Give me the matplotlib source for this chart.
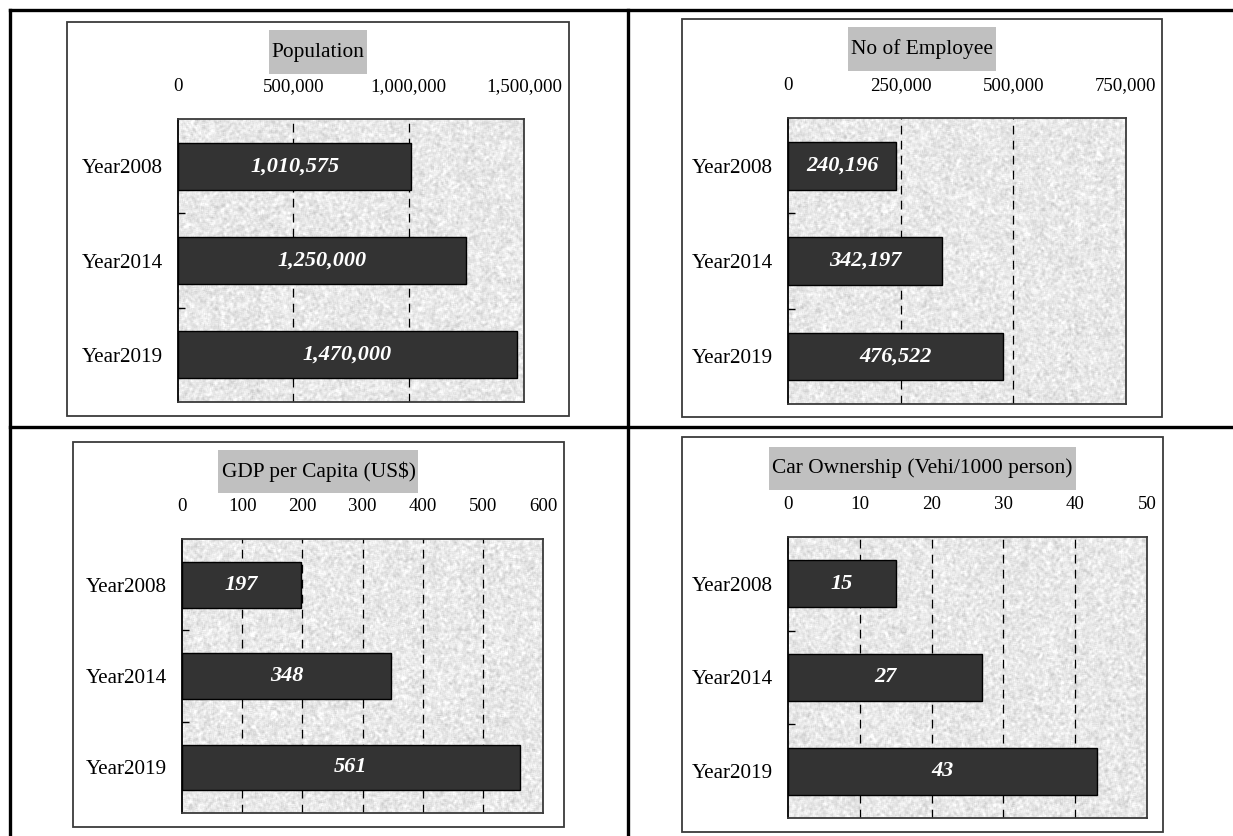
import numpy as np
import matplotlib
matplotlib.use('Agg')
import matplotlib.pyplot as plt
from matplotlib.patches import Rectangle
from matplotlib.lines import Line2D

plt.rcParams['font.family'] = ['Liberation Serif', 'DejaVu Serif']

# data
categories = ['Year2008', 'Year2014', 'Year2019']
population = [1010575, 1250000, 1470000]
employees = [240196, 342197, 476522]
gdp_per_capita = [197, 348, 561]
car_ownership = [15, 27, 43]

pop_ticks = [0, 500000, 1000000, 1500000]
emp_ticks = [0, 250000, 500000, 750000]
gdp_ticks = [0, 100, 200, 300, 400, 500, 600]
car_ticks = [0, 10, 20, 30, 40, 50]

W, H = 1233, 836
fig = plt.figure(figsize=(W / 100, H / 100), dpi=100)


def fig_rect(x0, y0, x1, y1):
    # pixel box (top-left origin) -> figure fraction [left, bottom, width, height]
    return [x0 / W, 1 - y1 / H, (x1 - x0) / W, (y1 - y0) / H]


# table grid lines
def table_line(xs, ys):
    fig.add_artist(Line2D([x / W for x in xs], [1 - y / H for y in ys],
                          color='black', lw=2.4, transform=fig.transFigure))


table_line([10, 10], [10, 836])
table_line([628, 628], [10, 836])
table_line([10, 1233], [10, 10])
table_line([10, 1233], [427, 427])

rng = np.random.default_rng(7)
kernel = np.ones(3) / 3


def texture(h, w):
    z = rng.normal(size=(h, w))
    z = np.apply_along_axis(lambda r: np.convolve(r, kernel, mode='same'), 1, z)
    z = np.apply_along_axis(lambda c: np.convolve(c, kernel, mode='same'), 0, z)
    z = z / z.std()
    return np.clip(0.91 + 0.035 * z, 0.78, 1.0)


def bar_panel(box, area, title, values, ticks, title_y):
    # outer chart frame
    fig.add_artist(Rectangle((box[0] / W, 1 - box[3] / H),
                             (box[2] - box[0]) / W, (box[3] - box[1]) / H,
                             fill=False, ec='#3a3a3a', lw=1.3,
                             transform=fig.transFigure))
    ax = fig.add_axes(fig_rect(*area))
    xmax = ticks[-1]
    h_px = int(area[3] - area[1])
    w_px = int(area[2] - area[0])
    ax.imshow(texture(h_px, w_px), cmap='gray', vmin=0, vmax=1,
              extent=(0, xmax, 2.5, -0.5), aspect='auto',
              interpolation='bilinear', zorder=0)
    for t in ticks[1:-1]:
        ax.axvline(t, color='black', lw=0.9, ls=(0, (7, 5)), zorder=1)
    y = np.arange(len(categories))
    ax.barh(y, values, height=0.5, color='#333333', edgecolor='black',
            lw=1.0, zorder=2)
    for yi, v in zip(y, values):
        ax.text(v / 2, yi, f'{v:,.0f}', ha='center', va='center',
                color='white', fontsize=16, fontweight='bold',
                fontstyle='italic', zorder=3)
    ax.set_xlim(0, xmax)
    ax.set_ylim(2.5, -0.5)
    ax.xaxis.tick_top()
    ax.set_xticks(ticks)
    ax.set_xticklabels([f'{t:,.0f}' for t in ticks])
    ax.tick_params(axis='x', length=0, pad=17, labelsize=13.6)
    ax.set_yticks(y)
    ax.set_yticklabels(categories)
    ax.tick_params(axis='y', which='major', length=0, pad=11, labelsize=15.2)
    ax.set_yticks([0.5, 1.5], minor=True)
    ax.tick_params(axis='y', which='minor', direction='in', length=5,
                   width=1, color='black')
    for s in ax.spines.values():
        s.set_color('#3a3a3a')
        s.set_linewidth(1.3)
    ax.spines['left'].set_color('black')

    cx = (box[0] + box[2]) / 2 / W
    txt = fig.text(cx, 1 - title_y / H, title, ha='center', va='center',
                   fontsize=15.4, zorder=5)
    return txt


titles = []
titles.append(bar_panel((67, 22, 569, 416), (178, 119, 524, 402),
                        'Population', population, pop_ticks, 52))
titles.append(bar_panel((682, 19, 1162, 417), (788, 118, 1126, 404),
                        'No of Employee', employees, emp_ticks, 49))
titles.append(bar_panel((73, 442, 564, 827), (182, 539, 543, 813),
                        'GDP per Capita (US$)', gdp_per_capita, gdp_ticks, 472))
titles.append(bar_panel((682, 437, 1163, 832), (788, 537, 1147, 818),
                        'Car Ownership (Vehi/1000 person)', car_ownership,
                        car_ticks, 468))

# grey boxes behind the chart titles
fig.canvas.draw()
renderer = fig.canvas.get_renderer()
for txt in titles:
    bb = txt.get_window_extent(renderer)
    cx = (bb.x0 + bb.x1) / 2
    cy = (bb.y0 + bb.y1) / 2
    bw = bb.width + 6
    bh = 43
    fig.add_artist(Rectangle(((cx - bw / 2) / W, (cy - bh / 2) / H),
                             bw / W, bh / H, fc='#c0c0c0', ec='none',
                             transform=fig.transFigure, zorder=4))

fig.savefig('out.png', dpi=100)
